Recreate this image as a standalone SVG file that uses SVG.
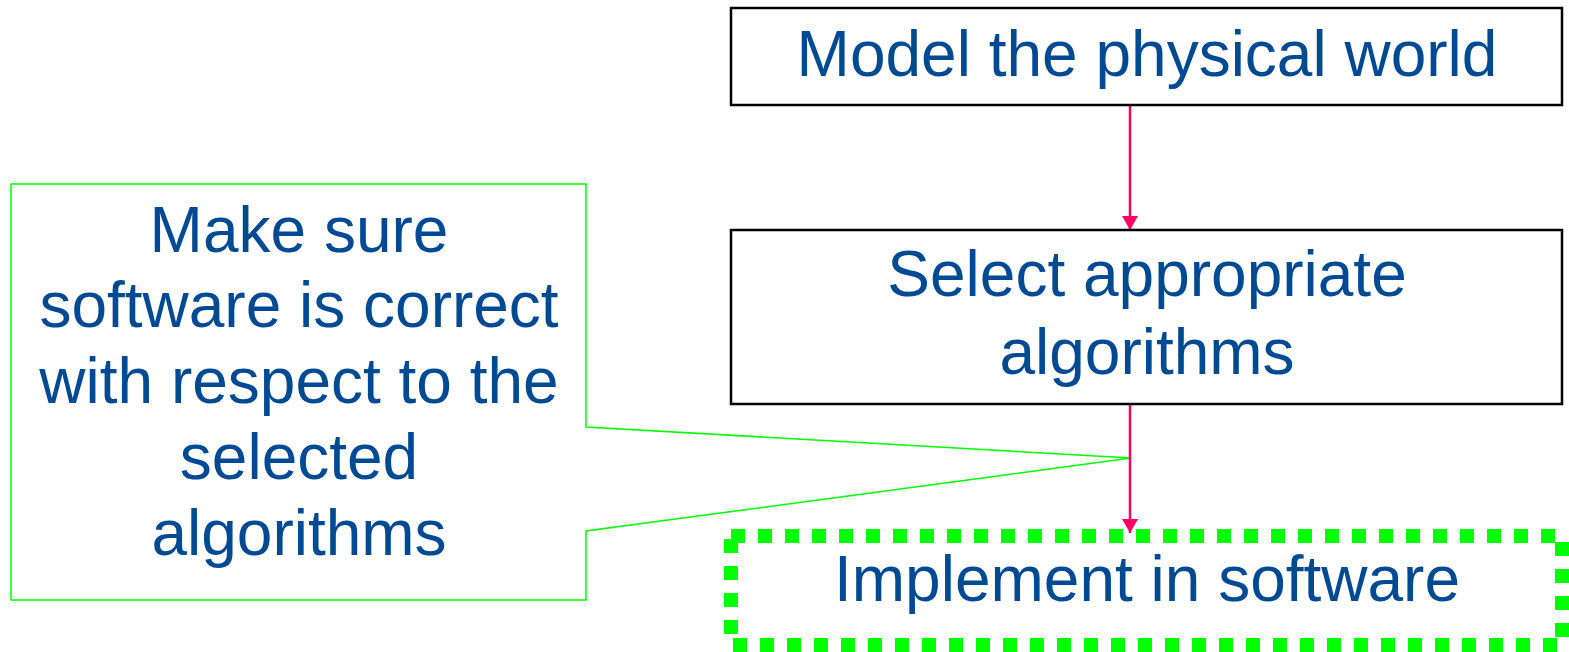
<svg xmlns="http://www.w3.org/2000/svg" width="1569" height="652" viewBox="0 0 1569 652">
<style>
.t{font-family:"Liberation Sans",Arial,sans-serif;font-size:64px;fill:#004A94;text-anchor:middle}
.box{fill:#fff;stroke:#000;stroke-width:2.5}
.conn{stroke:#FF0066;stroke-width:2.5;fill:none}
</style>
<defs>
<marker id="ah" markerWidth="16" markerHeight="16" refX="14" refY="8" orient="auto" markerUnits="userSpaceOnUse">
<path d="M0,0 L14,8 L0,16 Z" fill="#FF0066"/>
</marker>
</defs>
<rect width="1569" height="652" fill="#fff"/>
<g id="callout">
<path d="M11,184 H586 V427 L1131,458 L586,531 V600 H11 Z" fill="#fff" stroke="#00FF00" stroke-width="1.5"/>
<text class="t" x="299" y="252">Make sure</text>
<text class="t" x="299" y="327">software is correct</text>
<text class="t" x="299" y="403">with respect to the</text>
<text class="t" x="299" y="479">selected</text>
<text class="t" x="299" y="555">algorithms</text>
</g>
<g id="connectors">
<line class="conn" x1="1130" y1="105" x2="1130" y2="230" marker-end="url(#ah)"/>
<line class="conn" x1="1130" y1="405" x2="1130" y2="533" marker-end="url(#ah)"/>
</g>
<g id="node-model">
<rect class="box" x="731" y="8" width="831" height="97"/>
<text class="t" x="1147" y="76">Model the physical world</text>
</g>
<g id="node-select">
<rect class="box" x="731" y="230" width="831" height="174"/>
<text class="t" x="1147" y="296">Select appropriate</text>
<text class="t" x="1147" y="374">algorithms</text>
</g>
<g id="node-implement">
<rect x="731" y="536" width="831" height="109" fill="none" stroke="#00FF00" stroke-width="14" stroke-dasharray="14 13"/>
<text class="t" x="1147" y="601">Implement in software</text>
</g>
</svg>
